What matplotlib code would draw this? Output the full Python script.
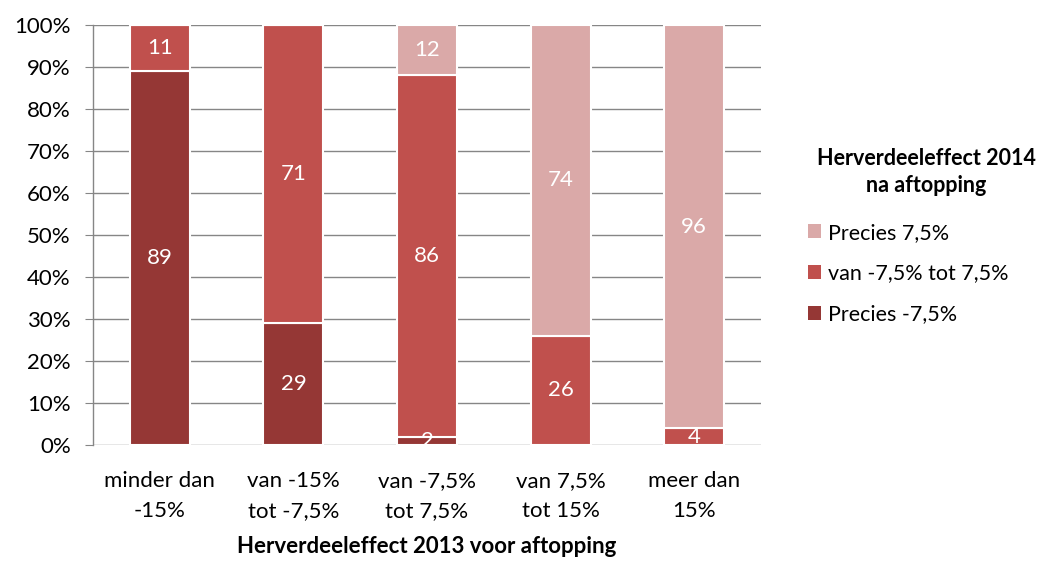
import matplotlib
matplotlib.use("Agg")
import matplotlib.pyplot as plt
from matplotlib.patches import Patch

plt.rcParams['font.family'] = ['Lato', 'DejaVu Sans']

categories = ["minder dan\n-15%", "van -15%\ntot -7,5%", "van -7,5%\ntot 7,5%",
              "van 7,5%\ntot 15%", "meer dan\n15%"]
series_names = ["Precies -7,5%", "van -7,5% tot 7,5%", "Precies 7,5%"]
precies_min = [89, 29, 2, 0, 0]
van_tot = [11, 71, 86, 26, 4]
precies_plus = [0, 0, 12, 74, 96]
yticks = [0, 10, 20, 30, 40, 50, 60, 70, 80, 90, 100]
legend_title = "Herverdeeleffect 2014\nna aftopping"

colors = ["#953735", "#C0504D", "#DAA9A8"]
FS = 16

fig = plt.figure(figsize=(10.4, 5.67), dpi=100)
ax = fig.add_axes([93/1040, 1-445/567, 668/1040, 420/567])

x = list(range(len(categories)))
bottom = [0]*len(categories)
for vals, col in zip([precies_min, van_tot, precies_plus], colors):
    ax.bar(x, vals, bottom=bottom, width=0.45, color=col,
           edgecolor="white", linewidth=1.5, zorder=3)
    for xi, v, b in zip(x, vals, bottom):
        if v > 0:
            ax.text(xi, b + v/2, str(v), ha="center", va="center",
                    color="white", fontsize=FS, zorder=4)
    bottom = [b + v for b, v in zip(bottom, vals)]

ax.set_xlim(-0.5, len(categories)-0.5)
ax.set_ylim(0, 100)
ax.set_yticks(yticks)
ax.set_yticklabels([f"{t}%" for t in yticks], fontsize=FS)
ax.set_xticks(x)
ax.set_xticklabels(categories, fontsize=FS, linespacing=1.6)
ax.tick_params(axis="x", length=0, pad=19)
ax.tick_params(axis="y", length=6, color="#868686", pad=10)
ax.grid(axis="y", color="#868686", linewidth=1, zorder=0)
for s in ["top", "right", "bottom"]:
    ax.spines[s].set_visible(False)
ax.spines["left"].set_color("#868686")
ax.spines["left"].set_linewidth(1)
ax.set_xlabel("Herverdeeleffect 2013 voor aftopping", fontsize=FS,
              fontweight="bold", labelpad=11)

fig.text(926/1040, 1-172/567, legend_title, ha="center", va="center",
         fontsize=15.5, fontweight="bold", linespacing=1.4)

handles = [Patch(facecolor=c, edgecolor="none") for c in colors[::-1]]
leg = fig.legend(handles, series_names[::-1], loc="upper left",
                 bbox_to_anchor=(799/1040, 1-214/567), frameon=False,
                 fontsize=15.5, borderaxespad=0,
                 handlelength=0.6, handleheight=0.6, handletextpad=0.35,
                 labelspacing=0.97)

fig.savefig("out.png", dpi=100)
